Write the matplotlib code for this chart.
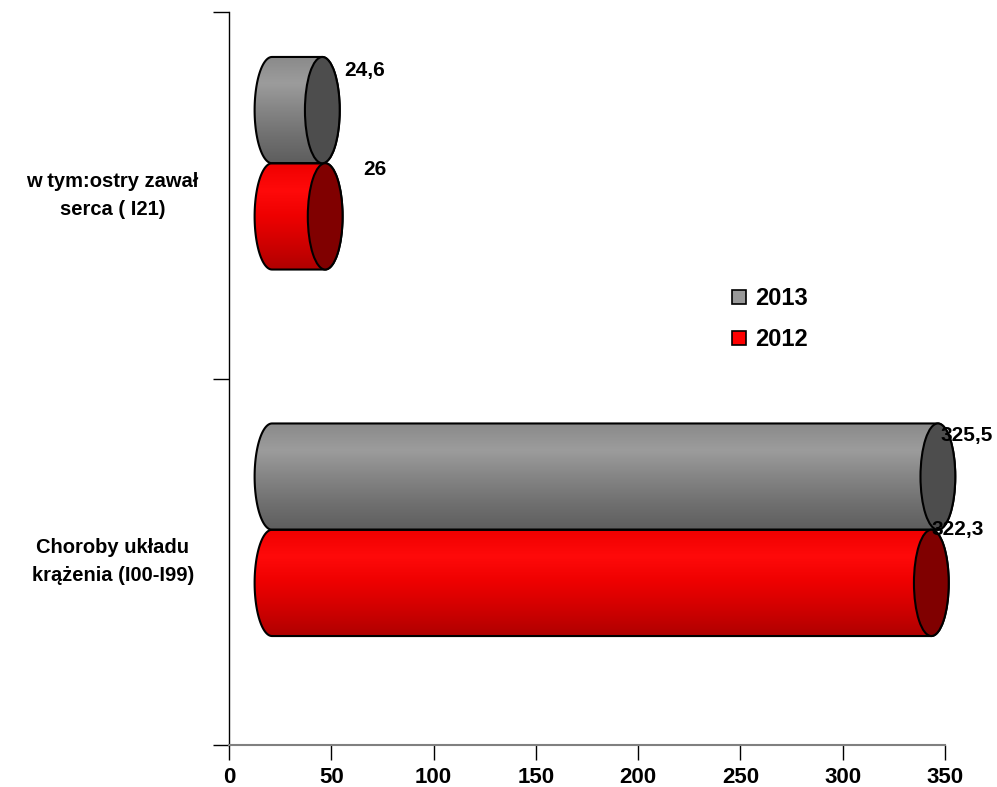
import numpy as np
import matplotlib.pyplot as plt
from matplotlib.patches import Ellipse, Polygon
from matplotlib.lines import Line2D
from matplotlib.colors import LinearSegmentedColormap
from matplotlib.transforms import ScaledTranslation, blended_transform_factory

# dane
categories = ['Choroby układu\nkrążenia (I00-I99)', 'w tym:ostry zawał\nserca ( I21)']
years = ['2013', '2012']
values_2013 = [325.5, 24.6]
values_2012 = [322.3, 26.0]
labels_2013 = ['325,5', '24,6']
labels_2012 = ['322,3', '26']
x_ticks = [0, 50, 100, 150, 200, 250, 300, 350]

bold = ['Liberation Sans', 'DejaVu Sans']

fig = plt.figure(figsize=(9.97, 7.87), dpi=100)
ax = fig.add_axes([229 / 997, 42 / 787, 716 / 997, 733 / 787])

# przesuniecie "3D" (glebia)
trans = ax.transData + ScaledTranslation(0.43, 0.32, fig.dpi_scale_trans)

gray_cmap = LinearSegmentedColormap.from_list(
    'g', ['#5e5e5e', '#707070', '#858585', '#9c9c9c', '#8a8a8a'])
red_cmap = LinearSegmentedColormap.from_list(
    'r', ['#b00000', '#d00000', '#ee0000', '#ff0a0a', '#f00000'])

h = 0.29   # grubosc walca
rx = 8.5   # polowa szerokosci elipsy


def cylinder(x_end, y0, cmap, cap_color):
    yc = y0 + h / 2
    ry = h / 2
    t1 = np.linspace(np.pi / 2, 3 * np.pi / 2, 60)
    t2 = np.linspace(-np.pi / 2, np.pi / 2, 60)
    left = np.column_stack([rx * np.cos(t1), yc + ry * np.sin(t1)])
    right = np.column_stack([x_end + rx * np.cos(t2), yc + ry * np.sin(t2)])
    body = Polygon(np.vstack([left, right]), closed=True, fc='none', ec='black',
                   lw=1.5, transform=trans, clip_on=False, zorder=3)
    ax.add_patch(body)
    grad = np.linspace(0, 1, 100).reshape(-1, 1)
    im = ax.imshow(grad, cmap=cmap, extent=[-rx, x_end + rx, y0, y0 + h],
                   origin='lower', aspect='auto', transform=trans,
                   interpolation='bilinear', zorder=2)
    im.set_clip_path(body)
    im.set_clip_box(None)
    cap = Ellipse((x_end, yc), 2 * rx, h, fc=cap_color, ec='black', lw=1.5,
                  transform=trans, clip_on=False, zorder=4)
    ax.add_patch(cap)


label_off_2013 = [(3, -12), (22, -14)]
label_off_2012 = [(0, 0), (38, -6)]

for i in range(len(categories)):
    c = i + 0.5
    cylinder(values_2013[i], c, gray_cmap, '#4d4d4d')
    cylinder(values_2012[i], c - h, red_cmap, '#800000')
    ax.annotate(labels_2013[i], xy=(values_2013[i], c + h), xycoords=trans,
                xytext=label_off_2013[i], textcoords='offset pixels',
                ha='left', va='center', fontsize=15, fontweight='bold',
                family=bold, annotation_clip=False, zorder=6)
    ax.annotate(labels_2012[i], xy=(values_2012[i], c), xycoords=trans,
                xytext=label_off_2012[i], textcoords='offset pixels',
                ha='left', va='center', fontsize=15, fontweight='bold',
                family=bold, annotation_clip=False, zorder=6)

ax.set_xlim(0, 350)
ax.set_ylim(0, 2)
ax.set_xticks(x_ticks)
ax.set_xticklabels([str(v) for v in x_ticks], fontsize=16, fontweight='bold',
                   family=bold)
ax.set_yticks([0, 1, 2])
ax.set_yticklabels([])
ax.tick_params(axis='x', direction='out', length=11, width=1, pad=5)
ax.tick_params(axis='y', direction='out', length=11.5, width=1)

for s in ['top', 'right']:
    ax.spines[s].set_visible(False)
ax.spines['left'].set_linewidth(1)
ax.spines['bottom'].set_color('#808080')
ax.spines['bottom'].set_linewidth(1.5)

lab_tr = blended_transform_factory(fig.transFigure, ax.transData)
for i, cat in enumerate(categories):
    ax.text(0.113, i + 0.5, cat, transform=lab_tr, ha='center', va='center',
            fontsize=14.5, fontweight='bold', family=bold, linespacing=1.6)

handles = [Line2D([], [], marker='s', ls='', markersize=10, markerfacecolor=fc,
                  markeredgecolor='black', markeredgewidth=1.2)
           for fc in ['#999999', '#ff0000']]
fig.legend(handles, years, loc='center left', bbox_to_anchor=(729.6 / 997, 1 - 319 / 787),
           frameon=False, borderpad=0, borderaxespad=0, handlelength=0.8,
           handletextpad=0.28, labelspacing=0.75,
           prop={'family': bold, 'weight': 'bold', 'size': 17})

fig.savefig('out.png', dpi=100)
